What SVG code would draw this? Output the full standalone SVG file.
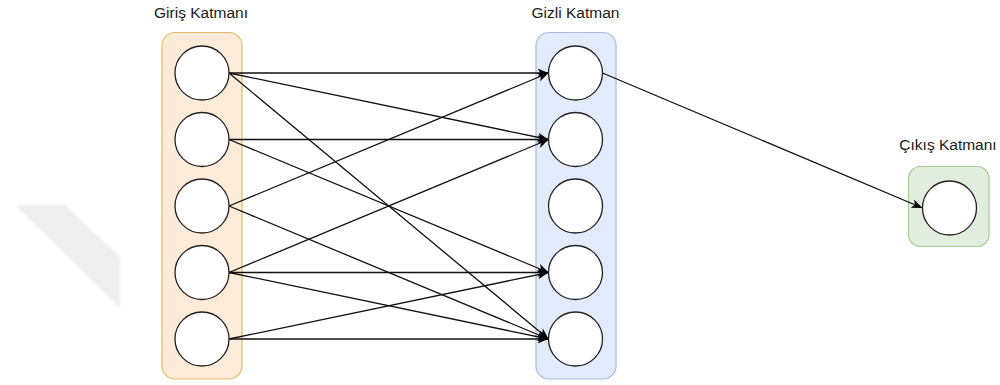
<svg xmlns="http://www.w3.org/2000/svg" width="1000" height="385" viewBox="0 0 1000 385">
  <defs>
    <marker id="arrow" viewBox="0 0 11 9" refX="11" refY="4.5" markerWidth="11" markerHeight="9" markerUnits="userSpaceOnUse" orient="auto">
      <path d="M0,0 L11,4.5 L0,9 L2.8,4.5 Z" fill="#000"/>
    </marker>
    <filter id="soft" x="-10%" y="-10%" width="120%" height="120%">
      <feGaussianBlur stdDeviation="1"/>
    </filter>
  </defs>
  <style>
    .label { font-family: "Liberation Sans", Arial, sans-serif; font-size: 15.5px; fill: #1a1a1a; text-anchor: middle; }
    .node { fill: #fff; stroke: #222; stroke-width: 1.3; }
    .edge { fill: none; stroke: #111; stroke-width: 1.3; marker-end: url(#arrow); }
    .layer-in { fill: #fdebd9; stroke: #e6bd66; stroke-width: 1.2; }
    .layer-hid { fill: #e2ebfb; stroke: #a6bddf; stroke-width: 1.2; }
    .layer-out { fill: #e1eedd; stroke: #a6cd98; stroke-width: 1.2; }
  </style>

  <rect width="1000" height="385" fill="#fff"/>

  <!-- faint background mark -->
  <polygon points="15,205 65,205 120,257 120,308" fill="#efefef" filter="url(#soft)"/>

  <!-- layer containers -->
  <g id="input-layer">
    <rect class="layer-in" x="162" y="32.5" width="80" height="346.5" rx="13"/>
    <text class="label" x="201" y="18">Giriş Katmanı</text>
  </g>
  <g id="hidden-layer">
    <rect class="layer-hid" x="536" y="32.5" width="80" height="346.5" rx="13"/>
    <text class="label" x="575.5" y="18">Gizli Katman</text>
  </g>
  <g id="output-layer">
    <rect class="layer-out" x="908.5" y="166.5" width="80.5" height="80" rx="12"/>
    <text class="label" x="948" y="150">Çıkış Katmanı</text>
  </g>

  <!-- connectors -->
  <g id="connectors">
    <line class="edge" x1="229" y1="73" x2="548.5" y2="73"/>
    <line class="edge" x1="229" y1="73" x2="548.5" y2="139.5"/>
    <line class="edge" x1="229" y1="73" x2="548.5" y2="339"/>
    <line class="edge" x1="229" y1="139.5" x2="548.5" y2="139.5"/>
    <line class="edge" x1="229" y1="139.5" x2="548.5" y2="272.5"/>
    <line class="edge" x1="229" y1="206" x2="548.5" y2="73"/>
    <line class="edge" x1="229" y1="206" x2="548.5" y2="339"/>
    <line class="edge" x1="229" y1="272.5" x2="548.5" y2="139.5"/>
    <line class="edge" x1="229" y1="272.5" x2="548.5" y2="272.5"/>
    <line class="edge" x1="229" y1="272.5" x2="548.5" y2="339"/>
    <line class="edge" x1="229" y1="339" x2="548.5" y2="272.5"/>
    <line class="edge" x1="229" y1="339" x2="548.5" y2="339"/>
    <line class="edge" x1="602.5" y1="73" x2="922.5" y2="208"/>
  </g>

  <!-- input neurons -->
  <g id="in1"><circle class="node" cx="202" cy="73" r="27"/></g>
  <g id="in2"><circle class="node" cx="202" cy="139.5" r="27"/></g>
  <g id="in3"><circle class="node" cx="202" cy="206" r="27"/></g>
  <g id="in4"><circle class="node" cx="202" cy="272.5" r="27"/></g>
  <g id="in5"><circle class="node" cx="202" cy="339" r="27"/></g>

  <!-- hidden neurons -->
  <g id="h1"><circle class="node" cx="575.5" cy="73" r="27"/></g>
  <g id="h2"><circle class="node" cx="575.5" cy="139.5" r="27"/></g>
  <g id="h3"><circle class="node" cx="575.5" cy="206" r="27"/></g>
  <g id="h4"><circle class="node" cx="575.5" cy="272.5" r="27"/></g>
  <g id="h5"><circle class="node" cx="575.5" cy="339" r="27"/></g>

  <!-- output neuron -->
  <g id="out1"><circle class="node" cx="949.5" cy="208" r="27"/></g>
</svg>
